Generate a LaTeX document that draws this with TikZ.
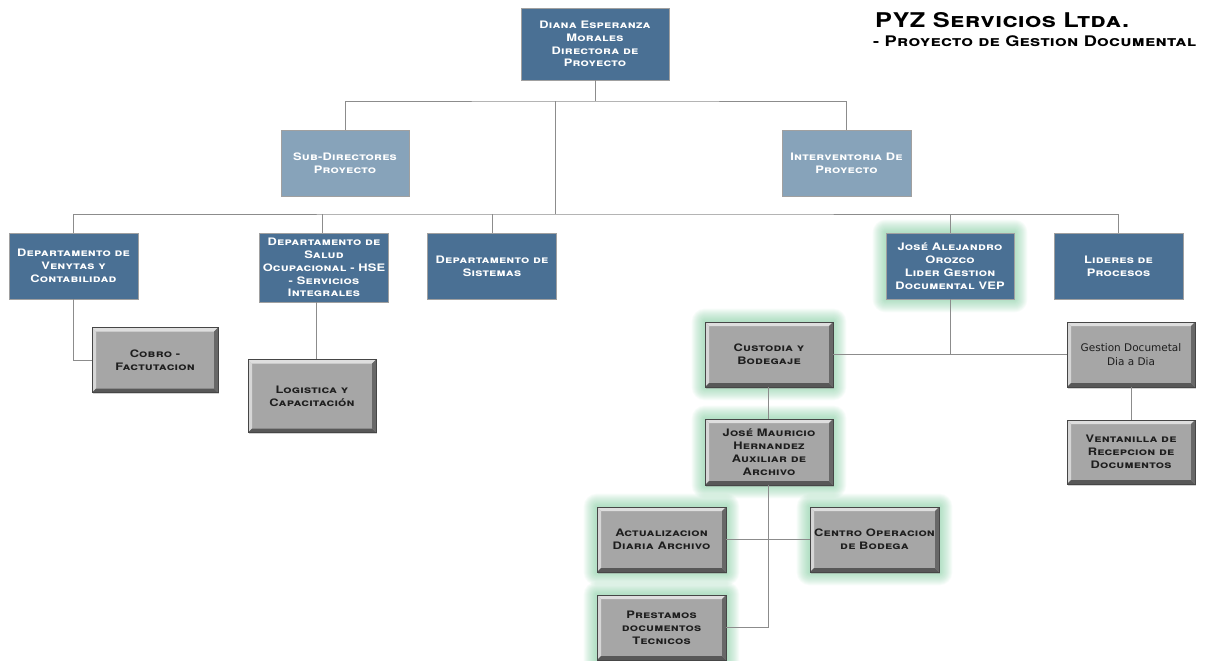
\documentclass[tikz,border=0pt]{standalone}
\usepackage{fontspec}
\setmainfont{TeX Gyre Heros}
\newfontfamily\cgfont{TeX Gyre Heros}[FakeStretch=1.25,LetterSpace=2]
\newfontfamily\verdfont{DejaVu Sans}
\usetikzlibrary{backgrounds,shadows}

\definecolor{deepblue}{RGB}{74,112,148}
\definecolor{paleblue}{RGB}{135,163,186}
\definecolor{boxedge}{RGB}{160,160,160}
\definecolor{bevelmid}{RGB}{166,166,166}
\definecolor{bevellight}{RGB}{222,222,222}
\definecolor{beveldark}{RGB}{88,88,88}
\definecolor{bevelout}{RGB}{70,70,70}
\definecolor{greytext}{RGB}{30,30,30}
\definecolor{linegrey}{RGB}{140,140,140}
\definecolor{glowgreen}{RGB}{120,205,155}

\tikzset{
  base/.style={rectangle, align=center, inner sep=2pt,
    font=\cgfont\bfseries\scshape\fontsize{10.3}{12.8}\selectfont},
  bluebox/.style={base, fill=deepblue, draw=boxedge, line width=0.8pt,
    text=white, minimum width=129pt, minimum height=66pt},
  lightbox/.style={bluebox, fill=paleblue},
  greybox/.style={base, fill=bevelmid, draw=bevelout, line width=0.6pt,
    text=greytext, minimum width=128pt, minimum height=65pt,
    drop shadow={shadow xshift=1.2pt, shadow yshift=-1.5pt, opacity=0.35},
    path picture={
      \fill[bevellight] (path picture bounding box.north west)
        -- (path picture bounding box.north east)
        -- ([shift={(-4pt,-4pt)}]path picture bounding box.north east)
        -- ([shift={(4pt,-4pt)}]path picture bounding box.north west) -- cycle;
      \fill[bevellight!85!bevelmid] (path picture bounding box.north west)
        -- ([shift={(4pt,-4pt)}]path picture bounding box.north west)
        -- ([shift={(4pt,4pt)}]path picture bounding box.south west)
        -- (path picture bounding box.south west) -- cycle;
      \fill[beveldark] (path picture bounding box.south west)
        -- (path picture bounding box.south east)
        -- ([shift={(-4pt,4pt)}]path picture bounding box.south east)
        -- ([shift={(4pt,4pt)}]path picture bounding box.south west) -- cycle;
      \fill[beveldark!80!bevelmid] (path picture bounding box.north east)
        -- (path picture bounding box.south east)
        -- ([shift={(-4pt,4pt)}]path picture bounding box.south east)
        -- ([shift={(-4pt,-4pt)}]path picture bounding box.north east) -- cycle;
    }},
  plainface/.style={font=\verdfont\fontsize{10.5}{14}\selectfont},
  link/.style={draw=linegrey, line width=0.9pt},
  titlefont/.style={inner sep=0pt, anchor=base west, text=black},
}

\begin{document}
\begin{tikzpicture}[x=1pt,y=-1pt]
\useasboundingbox (0,0) rectangle (1223,661);

% heading
\node[titlefont, font=\cgfont\bfseries\scshape\fontsize{20.3}{22}\selectfont] (title1) at (875,28) {PYZ Servicios Ltda.};
\node[titlefont, font=\cgfont\bfseries\scshape\fontsize{14.6}{16}\selectfont] (title2) at (873,47) {- Proyecto de Gestion Documental};

% direction
\node[bluebox, minimum width=148pt, minimum height=72pt] (diana) at (595,44) {Diana Esperanza\\Morales\\Directora de\\Proyecto};
\node[lightbox, minimum width=128pt] (sub) at (345,163) {Sub-Directores\\Proyecto};
\node[lightbox] (inter) at (846.5,163) {Interventoria De\\Proyecto};

% departments
\node[bluebox] (ventas) at (73.5,266) {Departamento de\\Venytas y\\Contabilidad};
\node[bluebox, minimum height=69pt] (salud) at (324,267.5) {Departamento de\\Salud\\Ocupacional - HSE\\- Servicios\\Integrales};
\node[bluebox] (sistemas) at (492,266) {Departamento de\\Sistemas};
\node[bluebox, minimum width=128pt] (jose) at (950,266) {José Alejandro\\Orozco\\Lider Gestion\\Documental VEP};
\node[bluebox] (lideres) at (1118.5,266) {Lideres de\\Procesos};

% second level
\node[greybox, minimum width=126pt] (cobro) at (155,360) {Cobro -\\Factutacion};
\node[greybox, minimum height=73pt] (logistica) at (312,396) {Logistica y\\Capacitación};
\node[greybox] (custodia) at (769,354.5) {Custodia y\\Bodegaje};
\node[greybox, plainface] (gestion) at (1131,354.5) {Gestion Documetal\\Dia a Dia};
\node[greybox, minimum height=66pt] (mauricio) at (769,452) {José Mauricio\\Hernandez\\Auxiliar de\\Archivo};
\node[greybox, minimum height=64pt] (ventanilla) at (1131,452) {Ventanilla de\\Recepcion de\\Documentos};
\node[greybox, minimum width=129pt] (actual) at (661.5,539.5) {Actualizacion\\Diaria Archivo};
\node[greybox, minimum width=129pt] (centro) at (874.5,539.5) {Centro Operacion\\de Bodega};
\node[greybox, minimum width=129pt] (prest) at (661.5,627.5) {Prestamos\\documentos\\Tecnicos};

% white page and soft green halo behind highlighted boxes
\begin{scope}[on background layer]
  \fill[white] (0,0) rectangle (1223,661);
  \foreach \n in {jose,custodia,mauricio,actual,centro,prest}{
    \foreach \r in {1,...,13}{
      \fill[glowgreen, opacity=0.055, rounded corners=\r pt]
        ([shift={(-\r pt,\r pt)}]\n.north west) rectangle ([shift={(\r pt,-\r pt)}]\n.south east);
    }
  }
\end{scope}

% connectors
\coordinate (topbar) at (595,101);
\coordinate (midbar) at (555,214);
\draw[link] (diana.south) -- (topbar);
\draw[link] (sub.north) |- (topbar) -| (inter.north);
\draw[link] (topbar -| midbar) -- (midbar);
\draw[link] (ventas.north) |- (midbar) -| (lideres.north);
\draw[link] ([xshift=-2pt]salud.north) -- ([xshift=-2pt]salud.north |- midbar);
\draw[link] (sistemas.north) -- (sistemas.north |- midbar);
\draw[link] (jose.north) -- (jose.north |- midbar);

\draw[link] (ventas.south) |- (cobro.west);
\draw[link] ([xshift=-8pt]salud.south) -- ([xshift=-8pt]salud.south |- logistica.north);

\draw[link] (custodia.east) -- (gestion.west);
\draw[link] (jose.south) -- (jose.south |- custodia.east);
\draw[link] (gestion.south) -- (ventanilla.north);
\draw[link] ([xshift=-1pt]custodia.south) -- ([xshift=-1pt]mauricio.north);
\draw[link] ([xshift=-1pt]mauricio.south) |- (prest.east);
\draw[link] (actual.east) -- (centro.west);
\end{tikzpicture}
\end{document}
